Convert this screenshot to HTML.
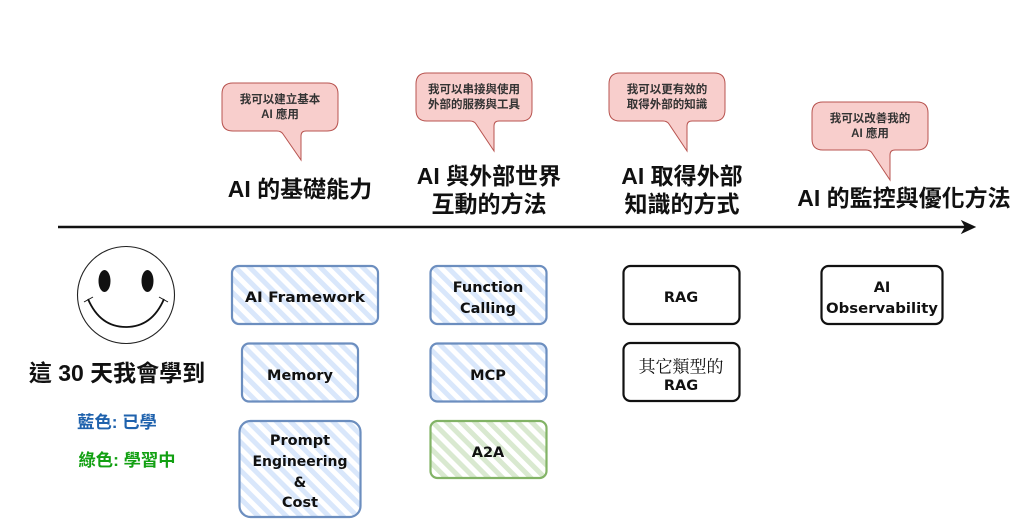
<!DOCTYPE html>
<html lang="zh-Hant">
<head>
<meta charset="utf-8">
<style>
html,body{margin:0;padding:0;background:#fff;width:1024px;height:531px;overflow:hidden}
svg{display:block;filter:blur(.3px)}
.cjk{font-family:"Liberation Sans","Noto Sans CJK TC",sans-serif;text-anchor:middle;dominant-baseline:central}
.h{font-size:23px;font-weight:700;fill:#111}
.b{font-size:11.5px;font-weight:700;fill:#333}
.l{font-size:17.3px;font-weight:700}
.k{font-family:"DejaVu Sans","Noto Sans CJK TC",sans-serif;font-size:14.5px;font-weight:700;text-anchor:middle;dominant-baseline:central;fill:#111}
.bub{fill:#f8cecc;stroke:#b85450;stroke-width:1}
.blue{fill:url(#hb);stroke:#6c8ebf;stroke-width:2.2}
.green{fill:url(#hg);stroke:#82b366;stroke-width:2.2}
.plain{fill:#fff;stroke:#111;stroke-width:2.2}
</style>
</head>
<body>
<svg width="1024" height="531" viewBox="0 0 1024 531" xmlns="http://www.w3.org/2000/svg">
<defs>
<pattern id="hb" width="10" height="10" patternUnits="userSpaceOnUse" patternTransform="rotate(45)">
<rect width="10" height="10" fill="#fff"/><rect width="10" height="5" fill="#d9e7fb"/>
</pattern>
<pattern id="hg" width="10" height="10" patternUnits="userSpaceOnUse" patternTransform="rotate(45)">
<rect width="10" height="10" fill="#fff"/><rect width="10" height="5" fill="#d9e9d0"/>
</pattern>
</defs>

<!-- speech bubbles -->
<path class="bub" d="M233 83H327Q338 83 338 94V120Q338 131 327 131H306Q301 131 301 136V160L283 134Q281 131 277 131H233Q222 131 222 120V94Q222 83 233 83Z"/>
<path class="bub" d="M427 73H521Q532 73 532 84V110Q532 121 521 121H499Q494 121 494 126V151L476 124Q474 121 470 121H427Q416 121 416 110V84Q416 73 427 73Z"/>
<path class="bub" d="M620 73H714Q725 73 725 84V110Q725 121 714 121H692Q687 121 687 126V151L669 124Q667 121 663 121H620Q609 121 609 110V84Q609 73 620 73Z"/>
<path class="bub" d="M823 102H917Q928 102 928 113V139Q928 150 917 150H895Q890 150 890 155V180L872 153Q870 150 866 150H823Q812 150 812 139V113Q812 102 823 102Z"/>

<text class="cjk b" x="280" y="100">我可以建立基本</text>
<text class="cjk b" x="280" y="115">AI 應用</text>
<text class="cjk b" x="474" y="90">我可以串接與使用</text>
<text class="cjk b" x="474" y="105">外部的服務與工具</text>
<text class="cjk b" x="667" y="90">我可以更有效的</text>
<text class="cjk b" x="667" y="105">取得外部的知識</text>
<text class="cjk b" x="870" y="119">我可以改善我的</text>
<text class="cjk b" x="870" y="134">AI 應用</text>

<!-- headings -->
<text class="cjk h" x="300" y="189">AI 的基礎能力</text>
<text class="cjk h" x="489" y="176">AI 與外部世界</text>
<text class="cjk h" x="489" y="204">互動的方法</text>
<text class="cjk h" x="682" y="176">AI 取得外部</text>
<text class="cjk h" x="682" y="204">知識的方式</text>
<text class="cjk h" x="904" y="198">AI 的監控與優化方法</text>

<!-- timeline -->
<line x1="58" y1="227" x2="966" y2="227" stroke="#111" stroke-width="2.5"/>
<path d="M975 227L962 221L965.500 227L962 233Z" fill="#111" stroke="#111"/>

<!-- smiley -->
<circle cx="126" cy="295" r="48.5" fill="#fff" stroke="#222" stroke-width="1.1"/>
<ellipse cx="104.5" cy="281" rx="6" ry="11" fill="#111"/>
<ellipse cx="147.5" cy="281" rx="6" ry="11" fill="#111"/>
<path d="M88 299Q100 327 126 327Q152 327 164 299" fill="none" stroke="#111" stroke-width="1.8"/>
<path d="M84 302L93 297M159 297L168 302" fill="none" stroke="#111" stroke-width="1"/>

<text class="cjk h" x="117" y="373">這 30 天我會學到</text>
<text class="cjk l" x="117" y="422" style="fill:#1f62ad">藍色: 已學</text>
<text class="cjk l" x="127" y="460" style="fill:#12a012">綠色: 學習中</text>

<!-- boxes -->
<rect class="blue" x="232" y="266" width="146" height="58" rx="7"/>
<rect class="blue" x="242" y="343.500" width="116" height="58" rx="7"/>
<rect class="blue" x="239.500" y="421" width="121" height="96" rx="11"/>
<rect class="blue" x="430.500" y="266" width="116" height="58" rx="7"/>
<rect class="blue" x="430.500" y="343.500" width="116" height="58" rx="7"/>
<rect class="green" x="430.500" y="421" width="116" height="57" rx="7"/>
<rect class="plain" x="623.500" y="266" width="116" height="58" rx="7"/>
<rect class="plain" x="623.500" y="343" width="116" height="58" rx="7"/>
<rect class="plain" x="821.500" y="266" width="121" height="58" rx="7"/>

<text class="k" x="305" y="298" textLength="120" lengthAdjust="spacingAndGlyphs">AI Framework</text>
<text class="k" x="300" y="376">Memory</text>
<text class="k" x="300" y="441">Prompt</text>
<text class="k" x="300" y="462" textLength="95" lengthAdjust="spacingAndGlyphs">Engineering</text>
<text class="k" x="300" y="483">&amp;</text>
<text class="k" x="300" y="503">Cost</text>
<text class="k" x="488" y="288">Function</text>
<text class="k" x="488" y="309">Calling</text>
<text class="k" x="488" y="376">MCP</text>
<text class="k" x="488" y="453">A2A</text>
<text class="k" x="681" y="298">RAG</text>
<text class="k" x="681" y="365" style="font-size:17px;font-weight:400;font-family:'Noto Serif CJK SC','Noto Sans CJK TC',serif">其它類型的</text>
<text class="k" x="681" y="386">RAG</text>
<text class="k" x="882" y="288">AI</text>
<text class="k" x="882" y="309" textLength="112" lengthAdjust="spacingAndGlyphs">Observability</text>
</svg>
</body>
</html>
